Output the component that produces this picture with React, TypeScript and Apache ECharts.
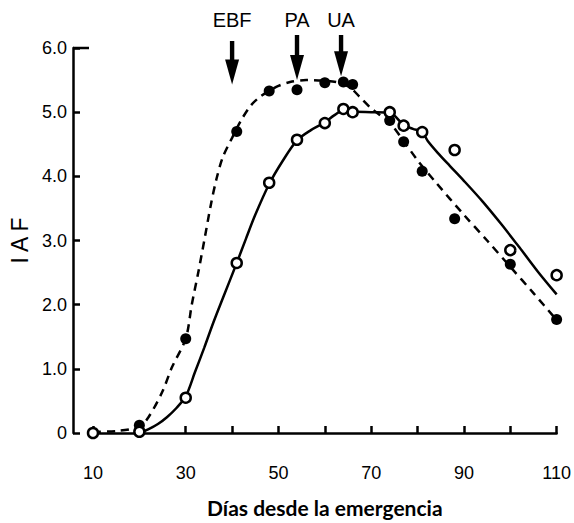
import React, { useEffect, useRef } from "react";
import * as echarts from "echarts";

// Observed points
const filledDays = [20, 30, 41, 48, 54, 60, 64, 66, 74, 77, 81, 88, 100, 110];
const filledIAF = [0.12, 1.47, 4.7, 5.33, 5.35, 5.46, 5.47, 5.43, 4.87, 4.54, 4.08, 3.34, 2.63, 1.77];
const openDays = [10, 20, 30, 41, 48, 54, 60, 64, 66, 74, 77, 81, 88, 100, 110];
const openIAF = [0, 0.02, 0.55, 2.65, 3.9, 4.57, 4.83, 5.05, 5.0, 5.0, 4.79, 4.69, 4.41, 2.85, 2.46];

// Fitted curves
const dashedCurveDays = [10, 15, 20, 22, 25, 27, 30, 31.3, 32.7, 34, 35.4, 36.6, 38, 40, 42, 44, 46, 48, 50, 52.5, 56, 60, 63, 65.5, 67.5, 70, 72, 74, 77, 80, 84, 90, 95, 100, 105, 110];
const dashedCurveIAF = [0.02, 0.03, 0.1, 0.25, 0.65, 1.02, 1.47, 2.0, 2.5, 3.0, 3.55, 3.95, 4.3, 4.6, 4.88, 5.1, 5.24, 5.33, 5.41, 5.47, 5.5, 5.49, 5.46, 5.38, 5.24, 5.06, 4.95, 4.84, 4.55, 4.25, 3.9, 3.4, 3.0, 2.59, 2.18, 1.76];
const solidCurveDays = [20, 22, 24, 26, 28, 30, 32, 34, 36, 38, 41, 43, 45, 48, 51, 54, 57, 60, 62, 64, 66, 70, 74, 77, 79, 81, 82.2, 84.3, 87, 90, 94, 98, 102, 106, 110];
const solidCurveIAF = [0.0, 0.06, 0.14, 0.25, 0.39, 0.57, 0.95, 1.33, 1.73, 2.1, 2.65, 3.03, 3.4, 3.88, 4.25, 4.56, 4.72, 4.84, 4.95, 5.03, 5.01, 5.0, 4.99, 4.8, 4.74, 4.69, 4.55, 4.37, 4.16, 3.93, 3.61, 3.26, 2.89, 2.51, 2.16];

// Axis labels
const xLabelValues = [10, 30, 50, 70, 90, 110];
const yLabelValues = [0, 1, 2, 3, 4, 5, 6];
const xTitle = "Días desde la emergencia";
const yTitle = "I A F";

// Annotations
const arrowLabels = ["EBF", "PA", "UA"];
const arrowDays = [40, 54, 63.5];
const arrowTipIAF = [5.43, 5.5, 5.56];

const zip = (xs: number[], ys: number[]) => xs.map((x, i) => [x, ys[i]]);

export default function App() {
  const ref = useRef<HTMLDivElement>(null);
  useEffect(() => {
    if (!ref.current) return;
    const chart = echarts.init(ref.current, null, { renderer: "svg" });
    const axisColor = "#000";
    const option: any = {
      animation: false,
      backgroundColor: "#fff",
      grid: { left: 93, right: 14, top: 48, bottom: 90 },
      xAxis: {
        type: "value",
        min: 10,
        max: 110,
        interval: 10,
        offset: 19,
        axisLine: { lineStyle: { color: axisColor, width: 2.5 } },
        axisTick: { inside: true, length: 7, lineStyle: { color: axisColor, width: 2.5 } },
        axisLabel: {
          formatter: (v: number) => (xLabelValues.includes(v) ? String(v) : ""),
          color: "#000",
          fontSize: 18,
          fontFamily: "Liberation Sans",
          margin: 12,
        },
        splitLine: { show: false },
        name: xTitle,
        nameLocation: "middle",
        nameGap: 45,
        nameTextStyle: { fontFamily: "Lato", fontWeight: "bold", fontSize: 21, color: "#000" },
      },
      yAxis: {
        type: "value",
        min: 0,
        max: 6,
        interval: 1,
        offset: 20,
        axisLine: { show: true, lineStyle: { color: axisColor, width: 2.5 } },
        axisTick: { show: true, inside: true, length: 7, lineStyle: { color: axisColor, width: 2.5 } },
        axisLabel: {
          formatter: (v: number) => (yLabelValues.includes(v) ? (v === 0 ? "0" : v.toFixed(1)) : ""),
          color: "#000",
          fontSize: 18,
          fontFamily: "Liberation Sans",
          margin: 6,
        },
        splitLine: { show: false },
        name: yTitle,
        nameLocation: "middle",
        nameGap: 40,
        nameTextStyle: { fontFamily: "Liberation Sans", fontSize: 23, color: "#000" },
      },
      series: [
        {
          type: "line",
          data: zip(dashedCurveDays, dashedCurveIAF),
          showSymbol: false,
          smooth: 0.3,
          lineStyle: { color: "#000", width: 2.5, type: [8, 6] },
          z: 2,
        },
        {
          type: "line",
          data: zip(solidCurveDays, solidCurveIAF),
          showSymbol: false,
          smooth: 0.3,
          lineStyle: { color: "#000", width: 2.5 },
          z: 2,
        },
        {
          type: "scatter",
          data: zip(filledDays, filledIAF),
          symbolSize: 11,
          itemStyle: { color: "#000", opacity: 1 },
          z: 4,
        },
        {
          type: "scatter",
          data: zip(openDays, openIAF),
          symbolSize: 10,
          itemStyle: { color: "#fff", borderColor: "#000", borderWidth: 2.5, opacity: 1 },
          z: 5,
        },
      ],
    };
    chart.setOption(option);

    const graphics: any[] = [];
    // long top tick at 6.0
    const top6 = chart.convertToPixel({ gridIndex: 0 }, [10, 6]) as number[];
    graphics.push({
      type: "line",
      shape: { x1: top6[0] - 20, y1: top6[1], x2: top6[0] - 4, y2: top6[1] },
      style: { stroke: "#000", lineWidth: 2.5 },
    });
    const arrowTops = [41, 35, 35];
    arrowLabels.forEach((lab, i) => {
      const p = chart.convertToPixel({ gridIndex: 0 }, [arrowDays[i], arrowTipIAF[i]]) as number[];
      const x = p[0];
      const tip = p[1];
      const headLen = 25;
      graphics.push({
        type: "rect",
        shape: { x: x - 2.2, y: arrowTops[i], width: 4.4, height: tip - headLen - arrowTops[i] + 1 },
        style: { fill: "#000" },
      });
      graphics.push({
        type: "polygon",
        shape: { points: [[x - 7, tip - headLen], [x + 7, tip - headLen], [x, tip]] },
        style: { fill: "#000" },
      });
      graphics.push({
        type: "text",
        x: x,
        y: 20,
        style: {
          text: lab,
          fill: "#000",
          font: "20px 'Liberation Sans'",
          align: "center",
          verticalAlign: "middle",
        },
      });
    });
    chart.setOption({ graphic: graphics });
    return () => chart.dispose();
  }, []);
  return (
    <div
      ref={ref}
      style={{ position: "fixed", left: 0, top: 0, width: 574, height: 523, background: "#fff" }}
    />
  );
}
